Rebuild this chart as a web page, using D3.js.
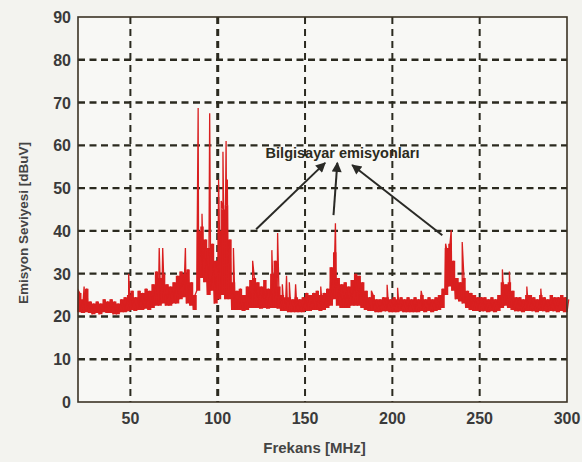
<!DOCTYPE html>
<html>
<head>
<meta charset="utf-8">
<script src="https://cdn.jsdelivr.net/npm/d3@7"></script>
<style>
  body { margin: 0; background: #f3f3ef; }
  svg { display: block; }
</style>
</head>
<body>
<div id="chart"></div>
<script>
// noise band of the spectrum, read every 2 MHz from 20 to 300 MHz
const bandFreq = d3.range(20, 301, 2);
const bandHigh = [
  25.5, 24, 26.5, 23.5, 23, 23.5, 23, 24, 23.5, 24,
  23.5, 23, 24, 24.5, 25, 26, 24.5, 26, 25.5, 26.5,
  26, 27.5, 30.5, 29, 30, 27.5, 27, 28, 29.5, 30.5,
  30, 31, 28, 25, 40, 41, 38, 36, 37, 33,
  40, 45, 46, 38, 28, 26, 26.5, 25, 27, 28.5,
  29, 28, 27, 28.5, 26.5, 30, 33, 27, 25, 24.5,
  24.5, 24, 24.5, 24, 24.5, 25.5, 25, 25.5, 26, 25,
  25.5, 26.5, 31.5, 35, 29, 27.5, 28, 27, 28.5, 30,
  29.5, 28, 26, 24.5, 25, 24, 24, 24.5, 24.5, 24,
  24.5, 24, 24.5, 24, 24.5, 24, 24.5, 24, 25, 24,
  24.5, 24, 24.5, 25, 26.5, 36, 37, 33, 29, 28,
  29, 26, 25.5, 25, 24.5, 24.5, 24.5, 24, 24.5, 24,
  25, 28, 27.5, 28, 26, 24.5, 24.5, 24, 25, 25,
  24.5, 24, 25, 24.5, 24, 25, 24.5, 24.5, 25, 24.5,
  24
];
const bandLow = [
  21, 20.8, 21, 20.8, 20.5, 20.8, 20.5, 21, 20.8, 20.8,
  20.5, 20.5, 21, 21, 21.2, 21.5, 21.3, 21.5, 21.5, 21.8,
  21.5, 22, 22.5, 22.5, 23, 22.5, 22.5, 23, 23, 24,
  24.5, 23, 22.5, 21.5, 26, 29, 28, 25, 26, 23,
  24, 25, 24, 24, 21.5, 21.5, 21.5, 21.3, 21.5, 22,
  22, 22, 21.8, 22, 21.8, 22, 22, 21.8, 21.3, 21.3,
  21, 21, 21, 21, 21, 21.3, 21.3, 21.5, 21.5, 21.3,
  21.5, 22, 22.5, 24, 22.5, 22, 22, 22, 22.5, 22.5,
  22.5, 22, 21.5, 21.3, 21.3, 21, 21, 21.2, 21.2, 21,
  21, 21, 21.2, 21, 21, 21, 21, 21, 21.3, 21,
  21.3, 21, 21.3, 21.5, 22, 25, 27, 26, 24, 23.5,
  23, 22, 21.5, 21.3, 21.3, 21.2, 21.2, 21, 21.2, 21,
  21.3, 22, 22.5, 22, 21.5, 21.2, 21.2, 21, 21.3, 21.3,
  21.2, 21, 21.3, 21.2, 21, 21.3, 21.2, 21, 21.3, 21,
  21
];
// narrow peaks on top of the band
const spikeFreq = [
  20.3, 23.5, 49, 66.5, 68.5, 81.5, 88.8, 91, 95.4, 100.5,
  102, 103, 104.8, 105.5, 109, 120, 131, 134.3, 137, 139.4,
  141, 144.6, 159, 167.4, 188, 197, 203, 216.5, 230.5, 233.7,
  240, 263, 267, 277, 285
];
const spikeLevel = [
  26, 27, 30, 36, 36, 36, 68.7, 44, 67.5, 52,
  47, 58.5, 61, 52, 36, 33, 35.5, 39.5, 27.5, 29.5,
  28, 27.5, 27, 41.8, 26, 27.4, 26.7, 26, 37, 40.2,
  37.4, 31, 30.5, 27, 26.5
];
const xTicks = [50, 100, 150, 200, 250, 300];
const yTicks = [0, 10, 20, 30, 40, 50, 60, 70, 80, 90];
const noteText = "Bilgisayar emisyonları";
// arrows: [from x, from y, to x, to y] in data units
const arrows = [
  [122, 40.4, 161.5, 55.9],
  [166.3, 43.7, 168.5, 55.9],
  [228.6, 39.0, 177, 55.4]
];

const W = 582, H = 462;
const margin = {top: 17, right: 15, bottom: 60, left: 78},
    width = W - margin.left - margin.right,
    height = H - margin.top - margin.bottom;

const x = d3.scaleLinear().domain([20, 300]).range([0, width]);
const y = d3.scaleLinear().domain([0, 90]).range([height, 0]);

const svg = d3.select("#chart").append("svg")
    .attr("width", W)
    .attr("height", H)
    .style("font-family", "'Liberation Sans', Arial, sans-serif");

const g = svg.append("g")
    .attr("transform", "translate(" + margin.left + "," + margin.top + ")");

g.append("rect")
    .attr("width", width).attr("height", height)
    .attr("fill", "#f8f8f5");

// grid
const gridColor = "#2b2a1f";
g.selectAll(".hgrid")
    .data(yTicks.filter(d => d > 0 && d < 90))
    .enter().append("line")
    .attr("x1", 0).attr("x2", width)
    .attr("y1", d => y(d)).attr("y2", d => y(d))
    .attr("stroke", gridColor)
    .attr("stroke-width", 2.4)
    .attr("stroke-dasharray", "7,4.5");

g.selectAll(".vgrid")
    .data(xTicks.filter(d => d < 300))
    .enter().append("line")
    .attr("x1", d => x(d)).attr("x2", d => x(d))
    .attr("y1", 0).attr("y2", height)
    .attr("stroke", gridColor)
    .attr("stroke-width", d => d === 100 ? 3 : 2)
    .attr("stroke-dasharray", "7,5");

// spectrum points: band low/high zigzag plus the spikes
let pts = [];
bandFreq.forEach((f, i) => {
    pts.push({f: f, v: bandLow[i]});
    pts.push({f: f + 1, v: bandHigh[i]});
});
spikeFreq.forEach((f, i) => pts.push({f: f, v: spikeLevel[i]}));
pts.sort((a, b) => a.f - b.f);

const band = bandFreq.map((f, i) => ({f: f, lo: bandLow[i], hi: bandHigh[i]}));
const red = "#d91f1f";

g.append("path")
    .datum(band)
    .attr("fill", red)
    .attr("d", d3.area()
        .curve(d3.curveStepAfter)
        .x(d => x(d.f))
        .y0(d => y(d.lo))
        .y1(d => y(d.hi)));

g.append("path")
    .datum(pts)
    .attr("fill", "none")
    .attr("stroke", red)
    .attr("stroke-width", 1.3)
    .attr("d", d3.line().x(d => x(d.f)).y(d => y(d.v)));

// frame
g.append("rect")
    .attr("width", width).attr("height", height)
    .attr("fill", "none")
    .attr("stroke", "#3b3225")
    .attr("stroke-width", 1.6);

// tick labels
g.selectAll(".xlab")
    .data(xTicks)
    .enter().append("text")
    .attr("x", d => x(d))
    .attr("y", height + 22)
    .attr("text-anchor", "middle")
    .attr("font-size", 16)
    .attr("font-weight", "bold")
    .attr("fill", "#3a3a3a")
    .text(d => d);

g.selectAll(".ylab")
    .data(yTicks)
    .enter().append("text")
    .attr("x", -7)
    .attr("y", d => y(d) + 6)
    .attr("text-anchor", "end")
    .attr("font-size", 16)
    .attr("font-weight", "bold")
    .attr("fill", "#3a3a3a")
    .text(d => d);

// axis titles
g.append("text")
    .attr("x", width / 2 - 8)
    .attr("y", height + 51)
    .attr("text-anchor", "middle")
    .attr("font-size", 15)
    .attr("font-weight", "bold")
    .attr("fill", "#444")
    .text("Frekans [MHz]");

svg.append("text")
    .attr("transform", "translate(28," + 223 + ") rotate(-90)")
    .attr("text-anchor", "middle")
    .attr("font-size", 13.5)
    .attr("font-weight", "bold")
    .attr("fill", "#444")
    .text("Emisyon Seviyesi [dBuV]");

// annotation
svg.append("defs").append("marker")
    .attr("id", "head")
    .attr("viewBox", "0 0 10 10")
    .attr("refX", 9).attr("refY", 5)
    .attr("markerWidth", 6).attr("markerHeight", 5)
    .attr("orient", "auto")
    .append("path")
    .attr("d", "M0,0L10,5L0,10Z")
    .attr("fill", "#2a2a26");

g.selectAll(".arrow")
    .data(arrows)
    .enter().append("line")
    .attr("x1", d => x(d[0])).attr("y1", d => y(d[1]))
    .attr("x2", d => x(d[2])).attr("y2", d => y(d[3]))
    .attr("stroke", "#2a2a26")
    .attr("stroke-width", 2)
    .attr("marker-end", "url(#head)");

g.append("text")
    .attr("x", x(171.5))
    .attr("y", y(57.1))
    .attr("text-anchor", "middle")
    .attr("font-size", 14.5)
    .attr("font-weight", "bold")
    .attr("fill", "#2b2b20")
    .text(noteText);
</script>
</body>
</html>
